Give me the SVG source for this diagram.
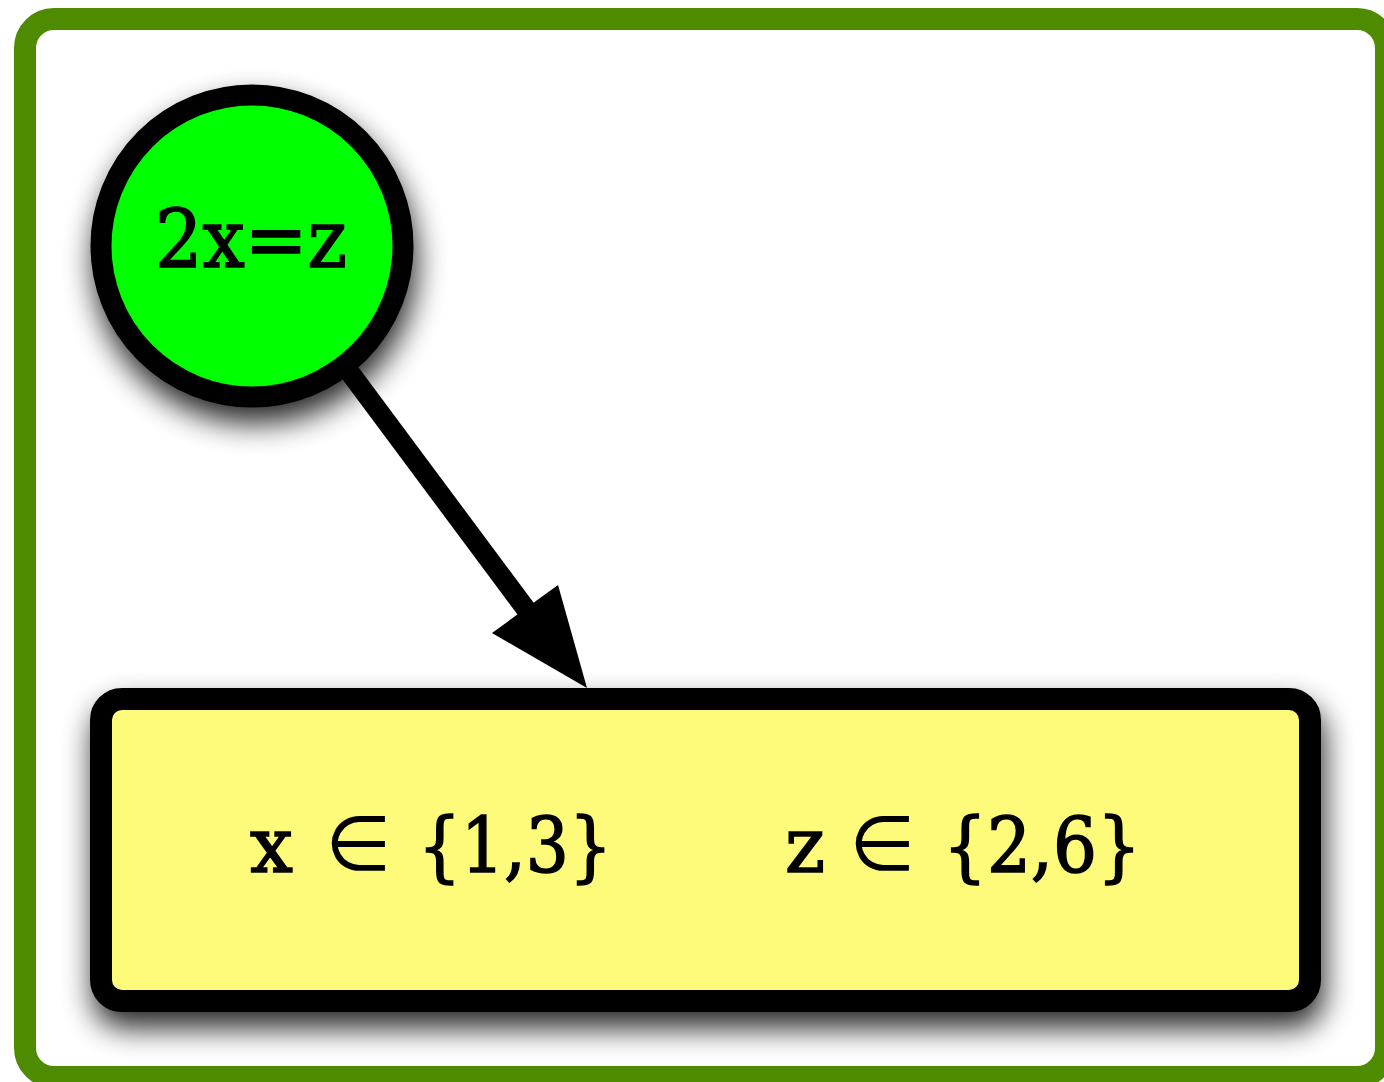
<svg xmlns="http://www.w3.org/2000/svg" width="1384" height="1082" viewBox="0 0 1384 1082">
<defs>
<style>
.lbl{font-family:"DejaVu Serif","Liberation Serif",serif;fill:#000;stroke:#000;stroke-width:1.6;}
.sym{font-family:"DejaVu Sans","Liberation Sans",sans-serif;fill:#000;}
</style>
<filter id="sh" x="-25%" y="-25%" width="150%" height="170%">
<feGaussianBlur in="SourceAlpha" stdDeviation="15"/>
<feOffset dx="3" dy="16" result="b"/>
<feComponentTransfer><feFuncA type="linear" slope="0.85"/></feComponentTransfer>
<feMerge><feMergeNode/><feMergeNode in="SourceGraphic"/></feMerge>
</filter>
</defs>
<rect x="0" y="0" width="1384" height="1082" fill="#ffffff"/>
<g id="frame">
<rect x="25" y="19" width="1361" height="1058" rx="29" ry="29" fill="#ffffff" stroke="#4f8b00" stroke-width="22"/>
</g>
<g id="connectors">
<line x1="348" y1="370" x2="534" y2="620" stroke="#000" stroke-width="20"/>
<polygon points="587,688 492,633 558,585" fill="#000"/>
</g>
<g id="node-constraint">
<circle cx="252" cy="246" r="151" fill="#00ff00" stroke="#000" stroke-width="21" filter="url(#sh)"/>
<text class="lbl" x="251" y="267" font-size="80" text-anchor="middle" textLength="192" lengthAdjust="spacingAndGlyphs">2x=z</text>
</g>
<g id="node-domains">
<rect x="101" y="699" width="1209" height="302" rx="21" ry="21" fill="#fffb7a" stroke="#000" stroke-width="22" filter="url(#sh)"/>
<text class="lbl" x="250" y="872" font-size="76">x</text>
<text class="sym" x="358" y="870" font-size="76" text-anchor="middle">∈</text>
<text class="lbl" x="418" y="872" font-size="76" textLength="194" lengthAdjust="spacingAndGlyphs">{1,3}</text>
<text class="lbl" x="785" y="872" font-size="76">z</text>
<text class="sym" x="882" y="870" font-size="76" text-anchor="middle">∈</text>
<text class="lbl" x="943" y="872" font-size="76" textLength="198" lengthAdjust="spacingAndGlyphs">{2,6}</text>
</g>
</svg>
